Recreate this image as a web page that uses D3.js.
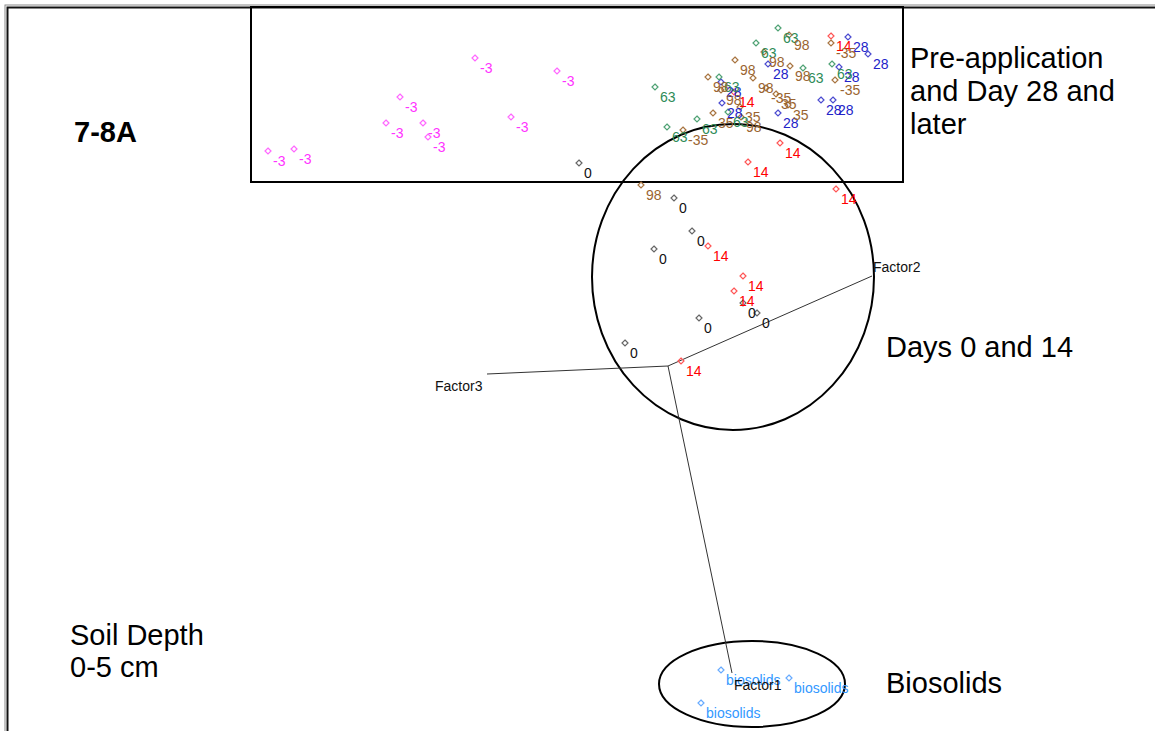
<!DOCTYPE html>
<html><head><meta charset="utf-8">
<script src="https://cdn.jsdelivr.net/npm/d3@7"></script>
<style>
html,body{margin:0;padding:0;background:#fff;}
svg{display:block;}
</style></head>
<body>
<svg id="chart" width="1155" height="731"></svg>
<script>
// Ordination scores projected onto the plotting plane (origin = axis origin)
const groups = ["-3","0","14","28","-35","35","63","98","biosolids"];
const pre3 = [[-1.93,3.08],[-1.11,2.95],[-2.68,2.69],[-2.82,2.43],[-2.45,2.43],[-2.40,2.29],[-1.57,2.49],[-4.00,2.15],[-3.74,2.17]];
const day0 = [[-0.89,2.03],[0.06,1.68],[0.24,1.35],[-0.14,1.17],[0.75,0.63],[0.89,0.53],[0.31,0.48],[-0.43,0.23]];
const day14 = [[1.63,3.30],[0.66,2.74],[1.12,2.23],[0.80,2.04],[1.68,1.77],[0.40,1.20],[0.75,0.90],[0.66,0.75],[0.13,0.05]];
const day28 = [[1.80,3.29],[2.00,3.12],[1.00,3.02],[1.71,2.99],[1.53,2.66],[1.65,2.66],[1.10,2.53],[0.54,2.63],[0.53,2.84]];
const pre35 = [[1.63,3.23],[1.67,2.86],[0.98,2.78],[0.15,2.36]];
const day35 = [[1.08,2.72],[1.20,2.61],[0.72,2.59],[0.45,2.53]];
const day63 = [[1.10,3.38],[0.88,3.23],[-0.13,2.79],[0.51,2.89],[1.64,3.02],[1.35,2.98],[0.29,2.47],[-0.01,2.39],[0.60,2.54]];
const day98 = [[1.21,3.31],[0.67,3.06],[1.22,3.00],[0.96,3.14],[0.40,2.89],[0.53,2.76],[0.85,2.88],[0.73,2.49],[-0.27,1.81]];
const biosolids = [[0.53,-3.04],[1.21,-3.12],[0.33,-3.37]];
const seriesValues = [pre3, day0, day14, day28, pre35, day35, day63, day98, biosolids];

// factor axes end points (origin at 0,0)
const factorNames = ["Factor1","Factor2","Factor3"];
const factorEnds = [[0.64,-3.07],[2.04,0.90],[-1.81,-0.08]];

// group outlines
const boxRegion = {x0:-4.17, x1:2.35, y0:3.59, y1:1.84};
const ellipses = [{cx:0.65, cy:0.89, rx:1.41, ry:1.53},{cx:0.84, cy:-3.18, rx:0.93, ry:0.43}];

const textColor = {"-3":"#ff33ff","0":"#111111","14":"#ff0000","28":"#2323c8","-35":"#9a6430","35":"#9a6430","63":"#2e8b57","98":"#9a6430","biosolids":"#3399ff"};
const markColor = {"-3":"#ff66ff","0":"#666666","14":"#ff5555","28":"#4b4bd0","-35":"#a87440","35":"#a87440","63":"#4fa274","98":"#a87440","biosolids":"#66aaff"};

const W=1155, H=731;
const svg = d3.select("#chart");
const x = d3.scaleLinear().domain([-6.68, 4.87]).range([0, W]);
const y = d3.scaleLinear().domain([3.66, -3.65]).range([0, H]);

// outer frame
svg.append("rect").attr("x",5).attr("y",5).attr("width",W+20).attr("height",H+20)
  .attr("fill","none").attr("stroke","#8a8a8a").attr("stroke-width",1);
svg.append("rect").attr("x",7.5).attr("y",7.5).attr("width",W+20).attr("height",H+20)
  .attr("fill","none").attr("stroke","#111").attr("stroke-width",2);

// box
svg.append("rect")
  .attr("x", x(boxRegion.x0)).attr("y", y(boxRegion.y0))
  .attr("width", x(boxRegion.x1)-x(boxRegion.x0)).attr("height", y(boxRegion.y1)-y(boxRegion.y0))
  .attr("fill","none").attr("stroke","#000").attr("stroke-width",2);

// ellipses
svg.selectAll("ellipse.grp").data(ellipses).enter().append("ellipse")
  .attr("cx", d=>x(d.cx)).attr("cy", d=>y(d.cy))
  .attr("rx", d=>x(d.rx)-x(0)).attr("ry", d=>y(0)-y(d.ry))
  .attr("fill","none").attr("stroke","#000").attr("stroke-width",2);

// factor axes
svg.selectAll("line.fac").data(factorEnds).enter().append("line")
  .attr("x1", x(0)).attr("y1", y(0))
  .attr("x2", d=>x(d[0])).attr("y2", d=>y(d[1]))
  .attr("stroke","#333").attr("stroke-width",1);

// points
const pts = [];
groups.forEach((g,i)=>seriesValues[i].forEach(v=>pts.push({g, x:v[0], y:v[1]})));
const diamond = "M0,-3L3,0L0,3L-3,0Z";
svg.selectAll("path.pt").data(pts).enter().append("path")
  .attr("d", diamond)
  .attr("transform", d=>`translate(${x(d.x)},${y(d.y)})`)
  .attr("fill","none").attr("stroke", d=>markColor[d.g]).attr("stroke-width",1.2);
svg.selectAll("text.pt").data(pts).enter().append("text")
  .attr("x", d=>x(d.x)+5).attr("y", d=>y(d.y)+15)
  .attr("font-family","'Liberation Sans', Arial, sans-serif").attr("font-size",14)
  .attr("fill", d=>textColor[d.g]).text(d=>d.g);

// factor labels
const facLabelPos = [[2,17],[1,-4],[-52,17]];
svg.selectAll("text.fac").data(factorEnds).enter().append("text")
  .attr("x", (d,i)=>x(d[0])+facLabelPos[i][0]).attr("y", (d,i)=>y(d[1])+facLabelPos[i][1])
  .attr("font-family","'Liberation Sans', Arial, sans-serif").attr("font-size",14)
  .attr("fill","#111").text((d,i)=>factorNames[i]);

// annotations
const font = "'Liberation Sans', Arial, sans-serif";
function multiline(lines, x0, y0, lh, opts={}){
  const t = svg.append("text").attr("font-family",font).attr("font-size",opts.size||29)
    .attr("font-weight",opts.weight||"normal").attr("fill","#000");
  lines.forEach((l,i)=>t.append("tspan").attr("x",x0).attr("y",y0+i*lh).text(l));
}
multiline(["7-8A"], 74, 142, 0, {weight:"bold", size:29});
multiline(["Pre-application","and Day 28 and","later"], 910, 68, 33, {size:29});
multiline(["Days 0 and 14"], 886, 357, 0, {size:29});
multiline(["Soil Depth","0-5 cm"], 70, 645, 32, {size:29});
multiline(["Biosolids"], 886, 693, 0, {size:29});
</script>
</body></html>
